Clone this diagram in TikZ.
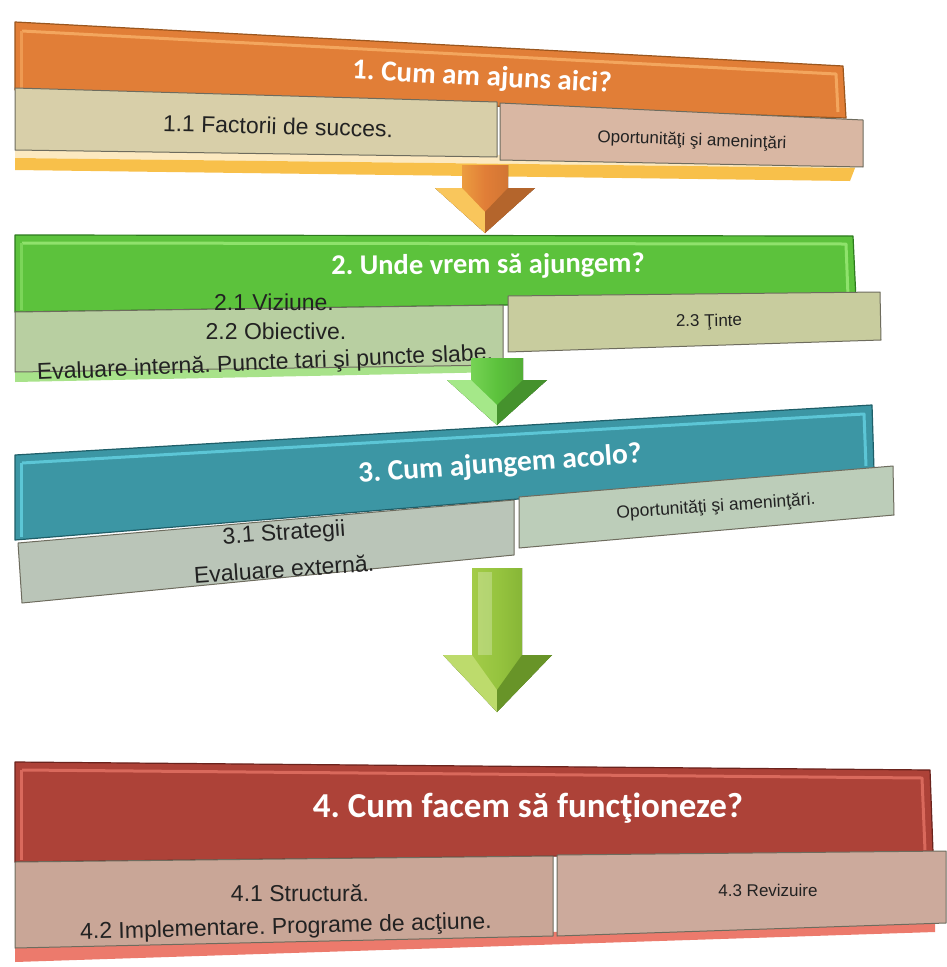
\documentclass[tikz,border=0pt]{standalone}
\usepackage{fontspec}
\setmainfont{Liberation Sans}
\newfontfamily\titlefont{Carlito}
\frenchspacing
\definecolor{orH}{HTML}{E17E37}
\definecolor{orD}{HTML}{9A561E}
\definecolor{orL}{HTML}{F3A65E}
\definecolor{orBeige}{HTML}{D8CFA9}
\definecolor{orPink}{HTML}{D9B7A3}
\definecolor{orStrip}{HTML}{F8C04A}
\definecolor{grH}{HTML}{5CC23C}
\definecolor{grD}{HTML}{2D7A1E}
\definecolor{grL}{HTML}{8FE26C}
\definecolor{grBoxA}{HTML}{B8CFA1}
\definecolor{grBoxB}{HTML}{C8CC9E}
\definecolor{grStrip}{HTML}{A8E28A}
\definecolor{tlH}{HTML}{3C96A4}
\definecolor{tlD}{HTML}{1F5E68}
\definecolor{tlL}{HTML}{5CC6D6}
\definecolor{tlBoxA}{HTML}{BAC5B8}
\definecolor{tlBoxB}{HTML}{BCCDB9}
\definecolor{rdH}{HTML}{AD4238}
\definecolor{rdD}{HTML}{6A231D}
\definecolor{rdL}{HTML}{D9695C}
\definecolor{rdBox}{HTML}{C9A697}
\definecolor{rdStrip}{HTML}{EC7A6C}
\definecolor{boxEdge}{HTML}{6E6C5E}
\definecolor{txt}{HTML}{222222}
\definecolor{ygA}{HTML}{B2D452}
\definecolor{ygB}{HTML}{96C43F}
\definecolor{ygC}{HTML}{74A52C}
\begin{document}
\begin{tikzpicture}[x=1pt,y=-1pt,
  hdr/.style={draw=#1,line width=1.2pt,line join=round},
  bevel/.style={draw=#1,line width=3pt,line join=round},
  subbox/.style={fill=#1,draw=boxEdge,line width=1pt,line join=round},
  ttl/.style={font=\titlefont\bfseries\fontsize{29}{34}\selectfont,text=white,inner sep=0pt},
  subtxt/.style={font=\fontsize{23}{27}\selectfont,text=txt,inner sep=0pt},
  smalltxt/.style={font=\fontsize{17}{20}\selectfont,text=txt,inner sep=0pt}]
\useasboundingbox (0,0) rectangle (946,967);
\fill[white] (0,0) rectangle (946,967);

% ---------------- Band 1 (orange)
\fill[orStrip!35] (15,148) -- (855,160) -- (855,168) -- (15,158) -- cycle;
\fill[orStrip] (15,158) -- (855,168) -- (850,181) -- (15,170) -- cycle;
\fill[orH,hdr=orD] (15,22) -- (843,66) -- (846,118) -- (15,90) -- cycle;
\draw[bevel=orL] (22,31) -- (836,74) -- (838,112);
\draw[bevel=orL!70!orH] (21,31) -- (21,88);
\filldraw[subbox=orBeige] (15,88) -- (497,102) -- (497,157) -- (15,150) -- cycle;
\filldraw[subbox=orPink] (500,103) -- (863,120) -- (863,167) -- (500,160) -- cycle;
\node[ttl,rotate=-3] (t1) at (482,78) {1. Cum am ajuns aici?};
\node[subtxt,rotate=-1.5] (s11) at (278,126) {1.1 Factorii de succes.};
\node[smalltxt,rotate=-2] (s12) at (692,141) {Oportunităţi şi ameninţări};

% arrow 1
\fill[left color=orStrip,right color=orH!85!black,middle color=orH]
  (462,165) -- (508,165) -- (508,188) -- (535,188) -- (485,233) -- (435,188) -- (462,188) -- cycle;
\fill[orStrip!90!white] (435,188) -- (462,188) -- (485,212) -- (485,233) -- cycle;
\fill[orH!80!black] (508,188) -- (535,188) -- (485,233) -- (485,212) -- cycle;

% ---------------- Band 2 (green)
\fill[grStrip] (15,370) -- (503,362) -- (503,372) -- (15,382) -- cycle;
\fill[grH,hdr=grD] (15,235) -- (853,236) -- (856,300) -- (15,312) -- cycle;
\draw[bevel=grL] (22,243) -- (846,244) -- (848,296);
\draw[bevel=grL!60!grH] (21,243) -- (21,310);
\filldraw[subbox=grBoxA] (15,312) -- (503,305) -- (503,365) -- (15,372) -- cycle;
\filldraw[subbox=grBoxB] (508,296) -- (880,292) -- (881,340) -- (508,352) -- cycle;
\node[ttl,font=\titlefont\bfseries\fontsize{28.5}{34}\selectfont,rotate=0.5] (t2) at (488,266) {2. Unde vrem să ajungem?};
\node[subtxt] (s21) at (274,302) {2.1 Viziune.};
\node[subtxt] (s22) at (276,331) {2.2 Obiective.};
\node[subtxt,rotate=2.5] (s2e) at (265,364) {Evaluare internă. Puncte tari şi puncte slabe.};
\node[smalltxt,rotate=1] (s23) at (709,322) {2.3 Ţinte};

% arrow 2
\fill[left color=grL,right color=grH!80!black,middle color=grH]
  (471,358) -- (523,358) -- (523,380) -- (547,380) -- (497,425) -- (447,380) -- (471,380) -- cycle;
\fill[grL!80!white] (447,380) -- (471,380) -- (497,405) -- (497,425) -- cycle;
\fill[grH!75!black] (523,380) -- (547,380) -- (497,425) -- (497,405) -- cycle;

% ---------------- Band 3 (teal)
\fill[tlH,hdr=tlD] (15,455) -- (872,405) -- (874,470) -- (15,540) -- cycle;
\draw[bevel=tlL] (22,463) -- (864,414) -- (866,466);
\draw[bevel=tlL] (21,463) -- (21,537);
\filldraw[subbox=tlBoxA] (18,543) -- (514,500) -- (514,555) -- (22,603) -- cycle;
\filldraw[subbox=tlBoxB] (519,497) -- (893,466) -- (894,515) -- (519,548) -- cycle;
\node[ttl,font=\titlefont\bfseries\fontsize{29.5}{34}\selectfont,rotate=4] (t3) at (500,465) {3. Cum ajungem acolo?};
\node[subtxt,rotate=4] (s31) at (284,534) {3.1 Strategii};
\node[subtxt,rotate=4] (s3e) at (284,569) {Evaluare externă.};
\node[smalltxt,font=\fontsize{17.5}{21}\selectfont,rotate=4] (s32) at (716,507) {Oportunităţi şi ameninţări.};

% arrow 3
\fill[left color=ygA,right color=ygC,middle color=ygB]
  (472,568) -- (522,568) -- (522,655) -- (552,655) -- (497,712) -- (443,655) -- (472,655) -- cycle;
\fill[white,opacity=0.25] (478,572) -- (492,572) -- (492,655) -- (478,655) -- cycle;
\fill[ygA!85!white] (443,655) -- (472,655) -- (497,690) -- (497,712) -- cycle;
\fill[ygC!90!black] (522,655) -- (552,655) -- (497,712) -- (497,690) -- cycle;

% ---------------- Band 4 (red)
\fill[rdStrip] (15,946) -- (935,922) -- (935,932) -- (15,962) -- cycle;
\fill[rdH,hdr=rdD] (15,762) -- (930,770) -- (933,852) -- (15,862) -- cycle;
\draw[bevel=rdL] (22,770) -- (922,778) -- (925,850);
\draw[bevel=rdL] (21,770) -- (21,860);
\filldraw[subbox=rdBox] (15,862) -- (553,856) -- (553,936) -- (15,948) -- cycle;
\filldraw[subbox=rdBox!95!white] (557,855) -- (946,851) -- (946,923) -- (557,936) -- cycle;
\node[ttl,font=\titlefont\bfseries\fontsize{35}{40}\selectfont] (t4) at (528,808) {4. Cum facem să funcţioneze?};
\node[subtxt] (s41) at (300,893) {4.1 Structură.};
\node[subtxt,rotate=1.5] (s42) at (286,928) {4.2 Implementare. Programe de acţiune.};
\node[smalltxt] (s43) at (768,890) {4.3 Revizuire};
\end{tikzpicture}
\end{document}
